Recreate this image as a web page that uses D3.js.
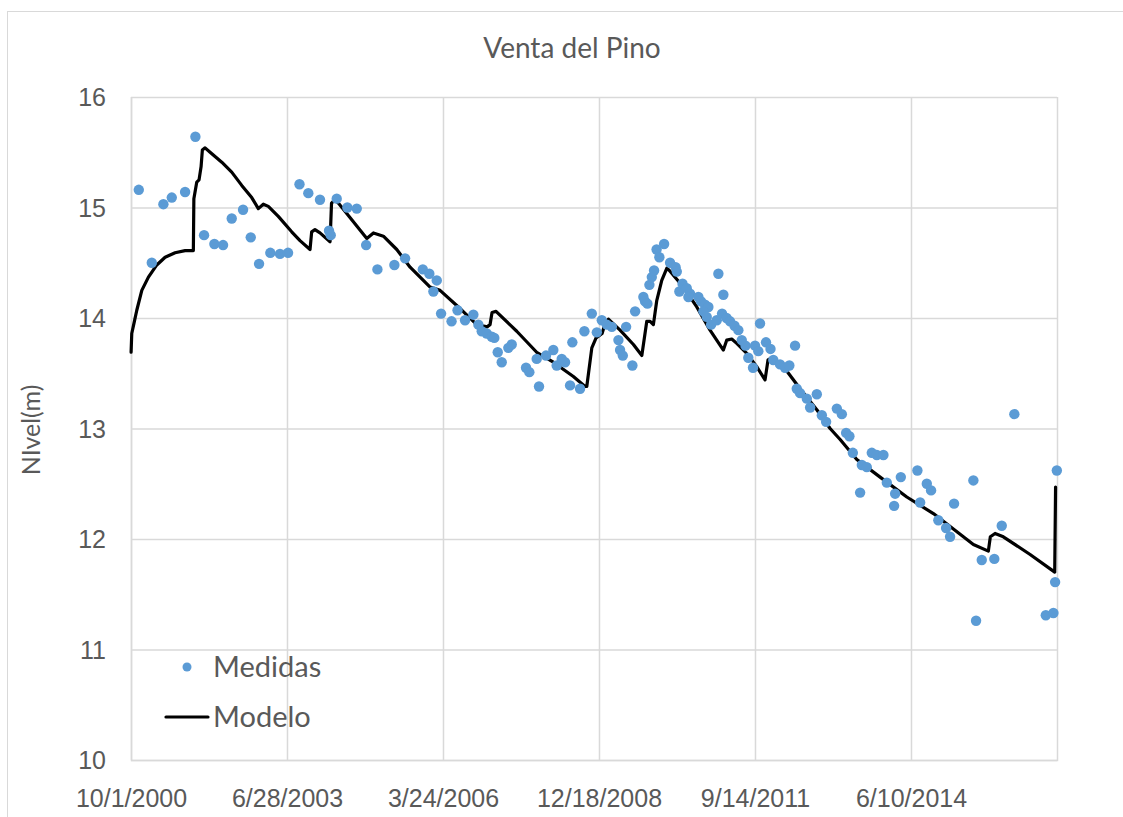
<!DOCTYPE html>
<html>
<head>
<meta charset="utf-8">
<script src="https://cdn.jsdelivr.net/npm/d3@7"></script>
<style>
  html, body { margin: 0; padding: 0; background: #fff; }
  svg { display: block; font-family: "Lato", "Open Sans", sans-serif; }
</style>
</head>
<body>
<svg id="chart" width="1123" height="817"></svg>
<script>
// Measured levels (decimal year, metres)
const measuredYears = [
  2000.885, 2001.113, 2001.317, 2001.464, 2001.698, 2001.879, 2002.031, 2002.212, 2002.365, 2002.517,
  2002.716, 2002.851, 2002.997, 2003.195, 2003.365, 2003.506, 2003.707, 2003.862, 2004.067, 2004.225,
  2004.255, 2004.360, 2004.546, 2004.711, 2004.875, 2005.073, 2005.371, 2005.559, 2005.870, 2005.985,
  2006.115, 2006.056, 2006.191, 2006.375, 2006.480, 2006.612, 2006.758, 2006.846, 2006.905, 2006.993,
  2007.081, 2007.126, 2007.186, 2007.256, 2007.372, 2007.432, 2007.683, 2007.741, 2007.911, 2007.870,
  2008.034, 2008.162, 2008.221, 2008.309, 2008.367, 2008.455, 2008.495, 2008.630, 2008.706, 2008.836,
  2008.924, 2009.011, 2009.099, 2009.187, 2009.303, 2009.332, 2009.380, 2009.438, 2009.548, 2009.596,
  2009.741, 2009.771, 2009.812, 2009.847, 2009.889, 2009.929, 2009.973, 2010.022, 2010.105, 2010.210,
  2010.307, 2010.328, 2010.373, 2010.429, 2010.503, 2010.561, 2010.532, 2010.707, 2010.754, 2010.824,
  2010.883, 2010.795, 2010.854, 2010.930, 2011.058, 2011.146, 2011.030, 2011.123, 2011.202, 2011.264,
  2011.342, 2011.409, 2011.469, 2011.535, 2011.584, 2011.667, 2011.702, 2011.760, 2011.790, 2011.895,
  2011.974, 2012.023, 2012.141, 2012.229, 2012.304, 2012.404, 2012.434, 2012.492, 2012.610, 2012.668,
  2012.785, 2012.873, 2012.948, 2013.136, 2013.224, 2013.299, 2013.357, 2013.417, 2013.545, 2013.575,
  2013.662, 2013.750, 2013.838, 2013.954, 2014.014, 2014.160, 2014.142, 2014.260, 2014.551, 2014.599,
  2014.716, 2014.791, 2014.919, 2015.055, 2015.125, 2015.195, 2015.534, 2015.581, 2015.681, 2015.902,
  2016.032, 2016.253, 2016.804, 2016.937, 2016.967, 2016.997
];
const measuredLevels = [
  15.16, 14.50, 15.03, 15.09, 15.14, 15.64, 14.75, 14.67, 14.66, 14.90,
  14.98, 14.73, 14.49, 14.59, 14.58, 14.59, 15.21, 15.13, 15.07, 14.79,
  14.75, 15.08, 15.00, 14.99, 14.66, 14.44, 14.48, 14.54, 14.44, 14.40,
  14.34, 14.24, 14.04, 13.97, 14.07, 13.98, 14.03, 13.94, 13.88, 13.86,
  13.83, 13.82, 13.69, 13.60, 13.73, 13.76, 13.55, 13.51, 13.38, 13.63,
  13.66, 13.71, 13.57, 13.63, 13.60, 13.39, 13.78, 13.36, 13.88, 14.04,
  13.87, 13.98, 13.94, 13.92, 13.80, 13.71, 13.66, 13.92, 13.57, 14.06,
  14.19, 14.15, 14.13, 14.30, 14.37, 14.43, 14.62, 14.55, 14.67, 14.50,
  14.46, 14.42, 14.24, 14.31, 14.27, 14.22, 14.19, 14.19, 14.15, 14.12,
  14.10, 14.06, 14.01, 13.94, 14.40, 14.21, 13.98, 14.04, 14.00, 13.97,
  13.93, 13.89, 13.80, 13.75, 13.64, 13.55, 13.75, 13.70, 13.95, 13.78,
  13.72, 13.62, 13.58, 13.55, 13.57, 13.75, 13.36, 13.32, 13.27, 13.19,
  13.31, 13.12, 13.06, 13.18, 13.13, 12.96, 12.93, 12.78, 12.42, 12.67,
  12.65, 12.78, 12.76, 12.76, 12.51, 12.41, 12.30, 12.56, 12.62, 12.33,
  12.50, 12.44, 12.17, 12.10, 12.02, 12.32, 12.53, 11.26, 11.81, 11.82,
  12.12, 13.13, 11.31, 11.33, 11.61, 12.62
];

// Simulated levels (decimal year, metres)
const modelYears = [
  2000.750, 2000.762, 2000.808, 2000.850, 2000.938, 2001.054, 2001.201, 2001.347, 2001.522, 2001.698,
  2001.843, 2001.852, 2001.903, 2001.943, 2001.979, 2002.001, 2002.049, 2002.137, 2002.342, 2002.517,
  2002.693, 2002.868, 2002.984, 2003.072, 2003.160, 2003.335, 2003.570, 2003.716, 2003.892, 2003.921,
  2003.979, 2004.067, 2004.243, 2004.269, 2004.330, 2004.388, 2004.887, 2005.003, 2005.178, 2005.413,
  2005.647, 2005.998, 2006.173, 2006.495, 2006.817, 2006.998, 2007.051, 2007.086, 2007.156, 2007.520,
  2007.870, 2008.162, 2008.513, 2008.718, 2008.748, 2008.836, 2008.911, 2009.016, 2009.069, 2009.127,
  2009.332, 2009.566, 2009.714, 2009.801, 2009.859, 2009.917, 2009.977, 2010.064, 2010.152, 2010.198,
  2010.443, 2010.679, 2010.912, 2011.146, 2011.206, 2011.293, 2011.381, 2011.557, 2011.732, 2011.878,
  2011.930, 2011.995, 2012.259, 2012.492, 2012.785, 2013.018, 2013.194, 2013.487, 2013.896, 2014.365,
  2014.832, 2015.534, 2015.797, 2015.832, 2015.915, 2016.060, 2016.529, 2016.960, 2016.975
];
const modelLevels = [
  13.69, 13.86, 13.97, 14.07, 14.25, 14.37, 14.48, 14.55, 14.59, 14.61,
  14.61, 15.08, 15.23, 15.25, 15.37, 15.52, 15.54, 15.50, 15.41, 15.32,
  15.20, 15.09, 14.99, 15.03, 15.01, 14.92, 14.78, 14.70, 14.62, 14.78,
  14.80, 14.77, 14.69, 15.04, 15.07, 15.04, 14.72, 14.77, 14.74, 14.62,
  14.46, 14.28, 14.25, 14.10, 13.94, 13.92, 13.94, 14.05, 14.06, 13.88,
  13.69, 13.60, 13.47, 13.38, 13.38, 13.73, 13.82, 13.86, 13.95, 13.99,
  13.89, 13.76, 13.66, 13.97, 13.97, 13.94, 14.16, 14.34, 14.45, 14.43,
  14.28, 14.10, 13.89, 13.71, 13.80, 13.81, 13.77, 13.68, 13.56, 13.44,
  13.62, 13.64, 13.52, 13.36, 13.17, 13.00, 12.90, 12.72, 12.56, 12.38,
  12.23, 11.95, 11.89, 12.02, 12.05, 12.02, 11.86, 11.70, 12.47
];

const yTickValues = [10, 11, 12, 13, 14, 15, 16];
const chartTitle = "Venta del Pino";
const yAxisTitle = "NIvel(m)";
const seriesNames = ["Medidas", "Modelo"];

// Decimal year -> Date (UTC)
function toDate(dy) {
  const y = Math.floor(dy);
  const a = Date.UTC(y, 0, 1), b = Date.UTC(y + 1, 0, 1);
  return new Date(a + (dy - y) * (b - a));
}

const measured = measuredYears.map((d, i) => ({ date: toDate(d), value: measuredLevels[i] }));
const model = modelYears.map((d, i) => ({ date: toDate(d), value: modelLevels[i] }));

const svg = d3.select("#chart");
const W = 1123, H = 817;
const plot = { left: 131, right: 1057, top: 97, bottom: 760 };

const xStart = new Date(Date.UTC(2000, 9, 1));
const xEnd = new Date(Date.UTC(2017, 0, 1));
const x = d3.scaleUtc().domain([xStart, xEnd]).range([plot.left, plot.right]);
const y = d3.scaleLinear().domain([10, 16]).range([plot.bottom, plot.top]);

// Date ticks every 1000 days from the axis origin
const xTickValues = d3.range(0, 6).map(k => d3.utcDay.offset(xStart, k * 1000));
const fmt = d => `${d.getUTCMonth() + 1}/${d.getUTCDate()}/${d.getUTCFullYear()}`;

const gridColor = "#d9d9d9";
const textColor = "#595959";

// Chart area border
svg.append("rect")
  .attr("x", 7.5).attr("y", 11.5)
  .attr("width", W + 20).attr("height", H + 20)
  .attr("fill", "#fff").attr("stroke", gridColor).attr("stroke-width", 1);

// Horizontal gridlines
const yAxis = d3.axisLeft(y).tickValues(yTickValues).tickSize(-(plot.right - plot.left)).tickFormat(d3.format("d"));
const gy = svg.append("g").attr("transform", `translate(${plot.left},0)`).call(yAxis);
gy.select(".domain").remove();
gy.selectAll(".tick line").attr("stroke", gridColor).attr("stroke-width", 1.5);
gy.selectAll(".tick text").attr("fill", textColor).attr("font-size", 25).attr("x", -25).attr("dy", "0.35em");

// Vertical gridlines + date labels
const xAxis = d3.axisBottom(x).tickValues(xTickValues).tickSize(-(plot.bottom - plot.top)).tickFormat(fmt);
const gx = svg.append("g").attr("transform", `translate(0,${plot.bottom})`).call(xAxis);
gx.select(".domain").attr("stroke", gridColor).attr("stroke-width", 1.5);
gx.selectAll(".tick line").attr("stroke", gridColor).attr("stroke-width", 1.5);
gx.selectAll(".tick text").attr("fill", textColor).attr("font-size", 25).attr("y", 38).attr("dy", "0.35em");

// Model line
const line = d3.line().x(d => x(d.date)).y(d => y(d.value));
svg.append("path")
  .datum(model)
  .attr("d", line)
  .attr("fill", "none")
  .attr("stroke", "#000")
  .attr("stroke-width", 3.2)
  .attr("stroke-linejoin", "round")
  .attr("stroke-linecap", "round");

// Measured points
svg.append("g").selectAll("circle")
  .data(measured)
  .join("circle")
  .attr("cx", d => x(d.date))
  .attr("cy", d => y(d.value))
  .attr("r", 5.2)
  .attr("fill", "#5b9bd5");

// Titles
svg.append("text")
  .attr("x", 572).attr("y", 48).attr("dy", "0.35em")
  .attr("text-anchor", "middle")
  .attr("fill", textColor).attr("font-size", 28)
  .text(chartTitle);

svg.append("text")
  .attr("transform", "translate(31,430) rotate(-90)")
  .attr("dy", "0.35em")
  .attr("text-anchor", "middle")
  .attr("fill", textColor).attr("font-size", 25)
  .text(yAxisTitle);

// Legend
const lg = svg.append("g");
lg.append("circle").attr("cx", 187).attr("cy", 667).attr("r", 4.5).attr("fill", "#5b9bd5");
lg.append("text").attr("x", 213).attr("y", 667).attr("dy", "0.35em")
  .attr("fill", textColor).attr("font-size", 29).text(seriesNames[0]);
lg.append("line").attr("x1", 166).attr("x2", 208).attr("y1", 717).attr("y2", 717)
  .attr("stroke", "#000").attr("stroke-width", 3.2).attr("stroke-linecap", "round");
lg.append("text").attr("x", 213).attr("y", 717).attr("dy", "0.35em")
  .attr("fill", textColor).attr("font-size", 29).text(seriesNames[1]);
</script>
</body>
</html>
